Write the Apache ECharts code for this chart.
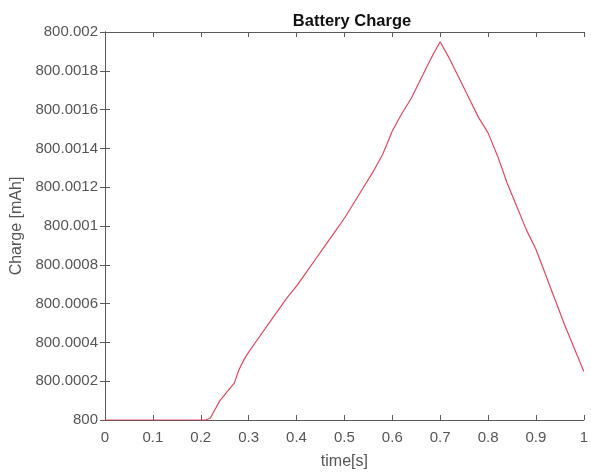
<!DOCTYPE html>
<html>
<head>
<meta charset="utf-8">
<script src="https://cdn.jsdelivr.net/npm/echarts@6/dist/echarts.min.js"></script>
<style>html,body{margin:0;padding:0;background:#fff}#c{width:591px;height:475px}</style>
</head>
<body>
<div id="c"></div>
<script>
var timeS = [0, 0.05, 0.1, 0.15, 0.2, 0.21, 0.22, 0.24, 0.26, 0.27, 0.28, 0.29, 0.30, 0.32, 0.34, 0.36, 0.38, 0.40, 0.42, 0.44, 0.46, 0.48, 0.50, 0.52, 0.54, 0.56, 0.58, 0.60, 0.62, 0.64, 0.66, 0.68, 0.70, 0.72, 0.74, 0.76, 0.78, 0.80, 0.82, 0.84, 0.86, 0.88, 0.90, 0.92, 0.94, 0.96, 0.98, 1.00];
var chargeMAh = [800, 800, 800, 800, 800, 800, 800.00001, 800.0001, 800.00016, 800.00019, 800.00026, 800.00031, 800.00035, 800.00042, 800.00049, 800.00056, 800.00063, 800.00069, 800.00076, 800.00083, 800.0009, 800.00097, 800.00104, 800.00112, 800.0012, 800.00128, 800.00137, 800.00149, 800.00158, 800.00166, 800.00176, 800.00186, 800.00195, 800.00186, 800.00176, 800.00166, 800.00156, 800.00148, 800.00136, 800.00122, 800.0011, 800.00098, 800.00088, 800.00075, 800.00062, 800.00049, 800.00037, 800.00025];
var xTicks = [0, 0.1, 0.2, 0.3, 0.4, 0.5, 0.6, 0.7, 0.8, 0.9, 1];
var yMin = 800, yMax = 800.002, yStep = 0.0002;

var pts = timeS.map(function (t, i) { return [t, chargeMAh[i]]; });
var axisCol = '#5a5a5a';
var labCol = '#555';
var font = 'Liberation Sans, Arial, sans-serif';
function fmtY(v) { return parseFloat(v.toFixed(4)).toString(); }
function fmtX(v) { return parseFloat(v.toFixed(1)).toString(); }

var chart = echarts.init(document.getElementById('c'), null, { renderer: 'canvas' });
chart.setOption({
  animation: false,
  backgroundColor: '#fff',
  title: {
    text: 'Battery Charge', left: 347, top: 8, textAlign: 'center',
    textStyle: { fontFamily: font, fontSize: 16.5, fontWeight: 'bold', color: '#111' }
  },
  grid: { left: 105, right: 2, top: 32, bottom: 52 },
  xAxis: [{
    type: 'value', min: 0, max: 1, interval: 0.1, position: 'bottom',
    name: 'time[s]', nameLocation: 'middle', nameGap: 34,
    nameTextStyle: { fontFamily: font, fontSize: 16, color: labCol },
    axisLine: { show: true, lineStyle: { color: axisCol, width: 1 } },
    axisTick: { show: true, inside: true, length: 5, lineStyle: { color: axisCol } },
    axisLabel: { fontFamily: font, fontSize: 15, color: labCol, margin: 10, formatter: fmtX },
    splitLine: { show: false }
  }, {
    type: 'value', min: 0, max: 1, interval: 0.1, position: 'top',
    axisLine: { show: true, lineStyle: { color: axisCol, width: 1 } },
    axisTick: { show: true, inside: true, length: 5, lineStyle: { color: axisCol } },
    axisLabel: { show: false }, splitLine: { show: false }
  }],
  yAxis: [{
    type: 'value', min: yMin, max: yMax, interval: yStep, position: 'left',
    name: 'Charge [mAh]', nameLocation: 'middle', nameGap: 77, nameRotate: 90,
    nameTextStyle: { fontFamily: font, fontSize: 16, color: labCol },
    axisLine: { show: true, lineStyle: { color: axisCol, width: 1 } },
    axisTick: { show: true, inside: true, length: 5, lineStyle: { color: axisCol } },
    axisLabel: { fontFamily: font, fontSize: 15, color: labCol, margin: 7, formatter: fmtY },
    splitLine: { show: false }, scale: true
  }, {
    type: 'value', min: yMin, max: yMax, interval: yStep, position: 'right',
    axisLine: { show: true, lineStyle: { color: axisCol, width: 1 } },
    axisTick: { show: true, inside: true, length: 5, lineStyle: { color: axisCol } },
    axisLabel: { show: false }, splitLine: { show: false }, scale: true
  }],
  series: [{
    type: 'line', data: pts, xAxisIndex: 0, yAxisIndex: 0,
    showSymbol: false, smooth: false,
    lineStyle: { color: '#e2475e', width: 1.2 }
  }]
});
</script>
</body>
</html>
